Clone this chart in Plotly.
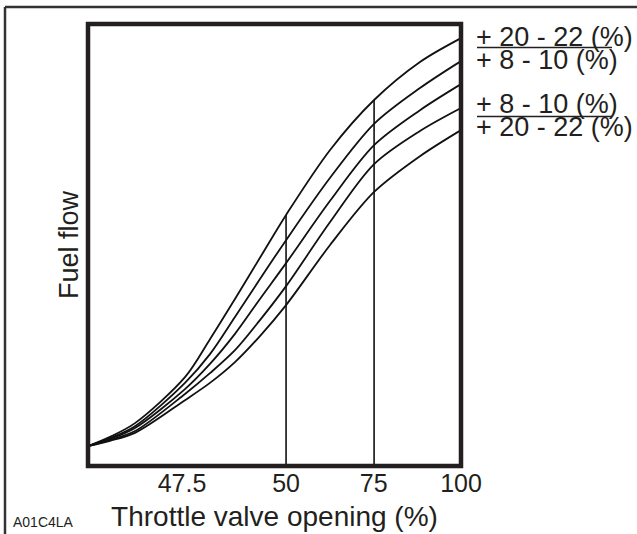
import plotly.graph_objects as go

# ---- data ----
# horizontal position along the axis (0 = left edge, 100 = right edge of plot box)
x_pos = [0, 5.9, 12.6, 26.0, 32.7, 39.4, 46.1, 53.1, 64.9, 76.7, 89.0, 100]
# fuel flow (relative units, 0 = bottom, 100 = top of plot box)
curve_1 = [4.5, 6.6, 9.7, 20.1, 28.7, 37.8, 47.1, 56.8, 71.5, 82.8, 91.4, 96.8]
curve_2 = [4.5, 6.3, 9.0, 18.8, 25.3, 33.7, 42.3, 51.1, 65.2, 77.4, 85.5, 91.6]
curve_3 = [4.5, 6.1, 8.6, 17.4, 23.1, 29.9, 37.8, 45.9, 60.0, 72.6, 80.5, 86.4]
curve_4 = [4.5, 5.9, 7.9, 16.3, 21.0, 26.2, 33.0, 40.7, 55.2, 68.3, 75.8, 81.0]
curve_5 = [4.5, 5.7, 7.5, 14.9, 18.8, 23.5, 29.4, 36.4, 50.0, 62.0, 70.1, 76.0]
curves = [curve_1, curve_2, curve_3, curve_4, curve_5]

# reference verticals (position, height reached = top curve value there)
ref_x = [53.1, 76.7]
ref_top = [56.8, 82.8]

tick_pos = [25.2, 53.1, 76.6, 100]
tick_text = ["47.5", "50", "75", "100"]

right_labels = ["+ 20 - 22 (%)", "+ 8 - 10 (%)", "+ 8 - 10 (%)", "+ 20 - 22 (%)"]

# ---- layout geometry (pixels) ----
W, H = 637, 534
L, R, T, B = 88, 461, 24, 466
PW, PH = R - L, B - T


def px(p):
    return (p - L) / PW


def py(p):
    return (B - p) / PH


FONT = "Liberation Sans, Arial, Helvetica, sans-serif"
INK = "#231f20"

fig = go.Figure()
for c in curves:
    fig.add_trace(go.Scatter(x=x_pos, y=c, mode="lines",
                             line=dict(color="#111111", width=1.8, shape="spline", smoothing=0.9),
                             hoverinfo="skip", showlegend=False))
for xv, yt in zip(ref_x, ref_top):
    fig.add_trace(go.Scatter(x=[xv, xv], y=[0, yt], mode="lines",
                             line=dict(color="#111111", width=1.6),
                             hoverinfo="skip", showlegend=False))

shapes = [
    # plot box
    dict(type="rect", xref="paper", yref="paper", x0=0, x1=1, y0=0, y1=1,
         line=dict(color=INK, width=4.5)),
    # outer frame (top & left)
    dict(type="line", xref="paper", yref="paper", x0=px(5), x1=px(W + 5), y0=py(7), y1=py(7),
         line=dict(color="#333333", width=2.5)),
    dict(type="line", xref="paper", yref="paper", x0=px(5), x1=px(5), y0=py(7), y1=py(H + 5),
         line=dict(color="#333333", width=2.5)),
    # fraction bars
    dict(type="line", xref="paper", yref="paper", x0=px(477), x1=px(612), y0=py(47.5), y1=py(47.5),
         line=dict(color=INK, width=1.5)),
    dict(type="line", xref="paper", yref="paper", x0=px(477), x1=px(612), y0=py(116.5), y1=py(116.5),
         line=dict(color=INK, width=1.5)),
]

label_y = [37, 60, 104, 127]
annotations = []
for txt, yy in zip(right_labels, label_y):
    annotations.append(dict(text=txt, xref="paper", yref="paper", x=px(475), y=py(yy),
                            xanchor="left", yanchor="middle", showarrow=False, borderpad=0,
                            font=dict(family=FONT, size=27, color=INK)))
annotations.append(dict(text="A01C4LA", xref="paper", yref="paper", x=px(11), y=py(522),
                        xanchor="left", yanchor="middle", showarrow=False,
                        font=dict(family=FONT, size=14, color=INK)))

fig.update_layout(
    width=W, height=H,
    margin=dict(l=L, r=W - R, t=T, b=H - B, autoexpand=False),
    paper_bgcolor="white", plot_bgcolor="white",
    showlegend=False,
    shapes=shapes, annotations=annotations,
    xaxis=dict(range=[0, 100], showgrid=False, zeroline=False, showline=False,
               automargin=False,
               tickmode="array", tickvals=tick_pos, ticktext=tick_text,
               ticks="", ticklen=0,
               tickfont=dict(family=FONT, size=25, color=INK),
               title=dict(text="Throttle valve opening (%)", standoff=10,
                          font=dict(family=FONT, size=28, color=INK)),
               fixedrange=True),
    yaxis=dict(range=[0, 100], showgrid=False, zeroline=False, showline=False,
               automargin=False,
               showticklabels=False, ticks="",
               title=dict(text="Fuel flow", standoff=0,
                          font=dict(family=FONT, size=27, color=INK)),
               fixedrange=True),
)

fig.write_html("out.html", config={"displayModeBar": False},
               post_script="document.body.style.margin='0';document.body.style.overflow='hidden';")
